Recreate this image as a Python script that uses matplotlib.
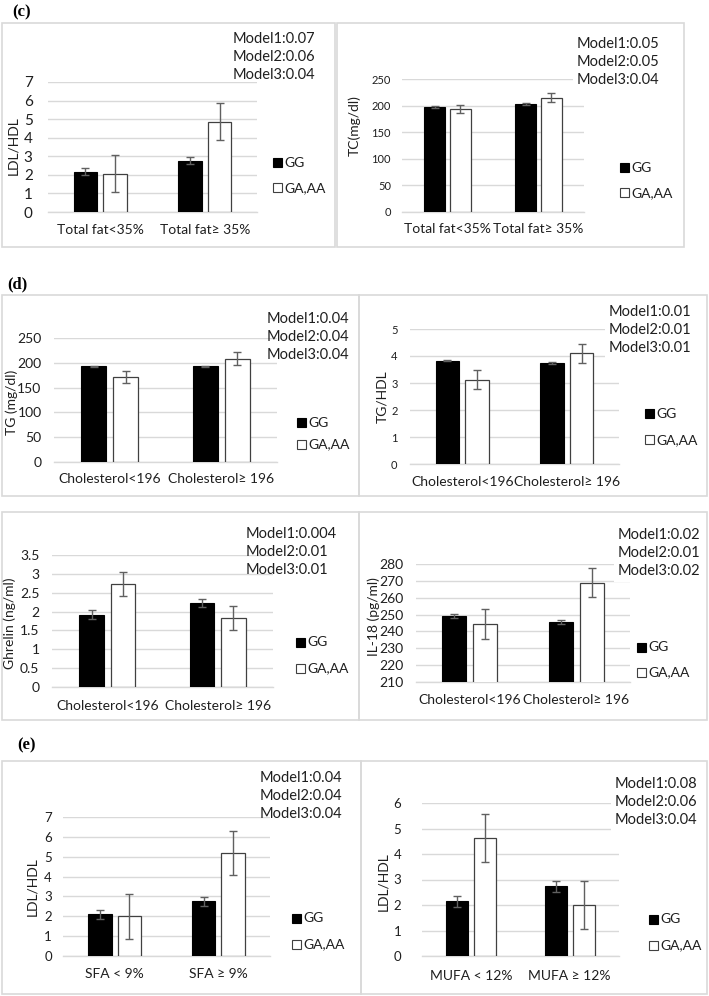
import matplotlib
matplotlib.use("Agg")
import matplotlib.pyplot as plt
from matplotlib.patches import Rectangle

plt.rcParams['font.family'] = ['Lato', 'DejaVu Sans']

W, H = 709, 996

# -----------------------------
#  Data
# -----------------------------
groups = ["GG", "GA,AA"]

fat_cats = ["Total fat<35%", "Total fat\u2265 35%"]
chol_cats = ["Cholesterol<196", "Cholesterol\u2265 196"]
sfa_cats = ["SFA < 9%", "SFA \u2265 9%"]
mufa_cats = ["MUFA < 12%", "MUFA \u2265 12%"]

# (c) LDL/HDL by total fat
ldl_fat_gg = [2.18, 2.75]
ldl_fat_gg_err = [0.18, 0.19]
ldl_fat_ga = [2.05, 4.86]
ldl_fat_ga_err = [1.0, 1.0]
ldl_fat_p = ["0.07", "0.06", "0.04"]

# (c) TC by total fat
tc_fat_gg = [198, 203]
tc_fat_gg_err = [2, 2]
tc_fat_ga = [194, 215]
tc_fat_ga_err = [7, 8]
tc_fat_p = ["0.05", "0.05", "0.04"]

# (d) TG by cholesterol
tg_chol_gg = [193, 193]
tg_chol_gg_err = [1, 1]
tg_chol_ga = [172, 208]
tg_chol_ga_err = [12, 13]
tg_chol_p = ["0.04", "0.04", "0.04"]

# (d) TG/HDL by cholesterol
tghdl_chol_gg = [3.83, 3.75]
tghdl_chol_gg_err = [0.03, 0.03]
tghdl_chol_ga = [3.12, 4.10]
tghdl_chol_ga_err = [0.35, 0.35]
tghdl_chol_p = ["0.01", "0.01", "0.01"]

# (d) Ghrelin by cholesterol
ghrelin_chol_gg = [1.92, 2.22]
ghrelin_chol_gg_err = [0.11, 0.11]
ghrelin_chol_ga = [2.73, 1.83]
ghrelin_chol_ga_err = [0.32, 0.32]
ghrelin_chol_p = ["0.004", "0.01", "0.01"]

# (d) IL-18 by cholesterol
il18_chol_gg = [249.0, 245.8]
il18_chol_gg_err = [1.3, 1.2]
il18_chol_ga = [244.4, 268.9]
il18_chol_ga_err = [8.9, 8.7]
il18_chol_p = ["0.02", "0.01", "0.02"]

# (e) LDL/HDL by SFA
ldl_sfa_gg = [2.11, 2.75]
ldl_sfa_gg_err = [0.23, 0.22]
ldl_sfa_ga = [2.01, 5.19]
ldl_sfa_ga_err = [1.13, 1.11]
ldl_sfa_p = ["0.04", "0.04", "0.04"]

# (e) LDL/HDL by MUFA
ldl_mufa_gg = [2.14, 2.73]
ldl_mufa_gg_err = [0.21, 0.23]
ldl_mufa_ga = [4.63, 1.99]
ldl_mufa_ga_err = [0.94, 0.94]
ldl_mufa_p = ["0.08", "0.06", "0.04"]

TXT = '#1f1f1f'


def fx(x):
    return x / W


def fy(y):
    return 1 - y / H


fig = plt.figure(figsize=(W / 100, H / 100), dpi=100)

# panel frames (pixel boxes: left, top, right, bottom)
frames = [(2, 23, 335, 247), (337, 23, 684, 247),
          (2, 295, 359, 496), (359, 295, 707, 496),
          (2, 512, 359, 720), (359, 512, 707, 720),
          (2, 761, 361, 994), (361, 761, 707, 994)]
for l, t, r, b in frames:
    fig.patches.append(Rectangle((fx(l), fy(b)), fx(r - l), (b - t) / H,
                                 transform=fig.transFigure, fill=False,
                                 edgecolor='#d9d9d9', lw=1.2))

for lab, x, y in [("(c)", 12, 12), ("(d)", 7, 284), ("(e)", 17, 745)]:
    fig.text(fx(x), fy(y), lab, family='Liberation Serif', fontweight='bold',
             fontsize=12, va='center', ha='left')


def panel(cats, gg, gg_err, ga, ga_err, pvals, ylabel, ylim, step,
          box, ylab_xy, model_xy, leg_xy, tick_fs=10, tick_pad=8,
          cat_pad=8, white_box=False):
    x0, x1, ybot, ytop = box
    ax = fig.add_axes([fx(x0), fy(ybot), (x1 - x0) / W, (ybot - ytop) / H])
    xs = list(range(len(cats)))
    w, off = 0.225, 0.142
    ax.bar([x - off for x in xs], gg, w, color='black', edgecolor='black',
           lw=0.8, zorder=3)
    ax.bar([x + off for x in xs], ga, w, color='white', edgecolor='#404040',
           lw=0.9, zorder=3)
    ax.errorbar([x - off for x in xs], gg, yerr=gg_err, fmt='none',
                ecolor='#606060', elinewidth=1, capsize=3, zorder=4)
    ax.errorbar([x + off for x in xs], ga, yerr=ga_err, fmt='none',
                ecolor='#606060', elinewidth=1, capsize=3, zorder=4)
    ax.set_xlim(-0.5, len(cats) - 0.5)
    ax.set_ylim(*ylim)
    ticks = []
    v = ylim[0]
    while v <= ylim[1] + 1e-9:
        ticks.append(v)
        v += step
    ax.set_yticks(ticks)
    ax.set_yticklabels([("%g" % t) for t in ticks])
    ax.set_xticks(xs)
    ax.set_xticklabels(cats, fontsize=10, color=TXT)
    ax.yaxis.grid(True, color='#d9d9d9', lw=1)
    ax.set_axisbelow(True)
    for s in ['top', 'right', 'left']:
        ax.spines[s].set_visible(False)
    ax.spines['bottom'].set_color('#d9d9d9')
    ax.spines['bottom'].set_linewidth(1)
    ax.tick_params(axis='y', length=0, labelsize=tick_fs, pad=tick_pad,
                   labelcolor=TXT)
    ax.tick_params(axis='x', length=0, pad=cat_pad)
    ax.patch.set_visible(False)

    fig.text(fx(ylab_xy[0]), fy(ylab_xy[1]), ylabel, rotation=90,
             ha='center', va='center', fontsize=10, color=TXT)

    mtxt = "\n".join("Model%d:%s" % (i + 1, p) for i, p in enumerate(pvals))
    kw = {}
    if white_box:
        kw['bbox'] = dict(facecolor='white', edgecolor='none', pad=3)
    fig.text(fx(model_xy[0]), fy(model_xy[1]), mtxt, ha='left', va='center',
             fontsize=10.5, color=TXT, linespacing=1.35, **kw)

    lx, ly1, ly2 = leg_xy
    for lab, yy, fc, ec in [(groups[0], ly1, 'black', 'black'),
                            (groups[1], ly2, 'white', '#404040')]:
        fig.patches.append(Rectangle((fx(lx), fy(yy + 4.5)), 9 / W, 9 / H,
                                     transform=fig.transFigure, facecolor=fc,
                                     edgecolor=ec, lw=0.8))
        fig.text(fx(lx + 11), fy(yy), lab, ha='left', va='center',
                 fontsize=10, color=TXT)
    return ax


panel(fat_cats, ldl_fat_gg, ldl_fat_gg_err, ldl_fat_ga, ldl_fat_ga_err,
      ldl_fat_p, "LDL/HDL", (0, 7), 1, (48, 257, 212, 82), (13, 146),
      (233, 57), (273, 163, 188), tick_fs=11, tick_pad=11, cat_pad=9)
panel(fat_cats, tc_fat_gg, tc_fat_gg_err, tc_fat_ga, tc_fat_ga_err,
      tc_fat_p, "TC(mg/dl)", (0, 250), 50, (402, 584, 212, 79), (354, 126),
      (577, 62), (620, 168, 193), tick_fs=8, tick_pad=8, cat_pad=8,
      white_box=True)
panel(chol_cats, tg_chol_gg, tg_chol_gg_err, tg_chol_ga, tg_chol_ga_err,
      tg_chol_p, "TG (mg/dl)", (0, 250), 50, (54, 277, 462, 338), (12, 402),
      (267, 337), (297, 423, 444), tick_fs=10, tick_pad=9, cat_pad=8)
panel(chol_cats, tghdl_chol_gg, tghdl_chol_gg_err, tghdl_chol_ga,
      tghdl_chol_ga_err, tghdl_chol_p, "TG/HDL", (0, 5), 1,
      (410, 619, 464, 329), (382, 397), (609, 330), (645, 414, 440),
      tick_fs=8, tick_pad=9, cat_pad=8.5, white_box=True)
panel(chol_cats, ghrelin_chol_gg, ghrelin_chol_gg_err, ghrelin_chol_ga,
      ghrelin_chol_ga_err, ghrelin_chol_p, "Ghrelin (ng/ml)", (0, 3.5), 0.5,
      (52, 273, 687, 555), (10, 623), (246, 552), (296, 642, 668),
      tick_fs=10, tick_pad=9, cat_pad=9)
panel(chol_cats, il18_chol_gg, il18_chol_gg_err, il18_chol_ga,
      il18_chol_ga_err, il18_chol_p, "IL-18 (pg/ml)", (210, 280), 10,
      (416, 630, 682, 564), (374, 617), (618, 553), (637, 647, 672),
      tick_fs=10, tick_pad=9, cat_pad=9, white_box=True)
panel(sfa_cats, ldl_sfa_gg, ldl_sfa_gg_err, ldl_sfa_ga, ldl_sfa_ga_err,
      ldl_sfa_p, "LDL/HDL", (0, 7), 1, (63, 270, 956, 817), (32, 887),
      (260, 796), (292, 918, 944), tick_fs=9.5, tick_pad=8, cat_pad=8.5)
panel(mufa_cats, ldl_mufa_gg, ldl_mufa_gg_err, ldl_mufa_ga, ldl_mufa_ga_err,
      ldl_mufa_p, "LDL/HDL", (0, 6), 1, (422, 619, 956, 803), (383, 882),
      (615, 802), (649, 919, 945), tick_fs=9.5, tick_pad=15, cat_pad=10,
      white_box=True)

fig.savefig("out.png", dpi=100)
